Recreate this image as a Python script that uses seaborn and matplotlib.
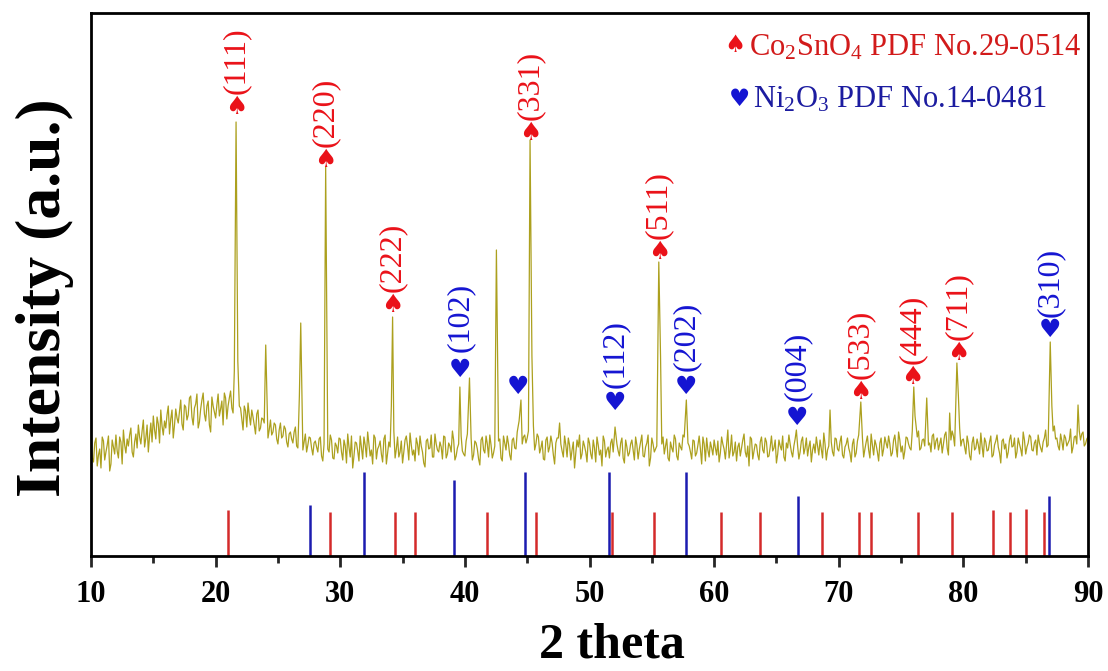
import numpy as np
import pandas as pd
import matplotlib
matplotlib.use("Agg")
import matplotlib.pyplot as plt
import seaborn as sns
from matplotlib.ticker import MultipleLocator

# ---------------- data (intensity in arbitrary units) ----------------
# background read every 0.2 deg from 10.0 to 90.0 deg
grid_start, grid_step = 10.0, 0.2
bg_10_20 = [112, 94, 118, 101, 88, 115, 104, 120, 92, 109,
            121, 98, 114, 126, 103, 110, 128, 99, 122, 131,
            112, 136, 118, 104, 133, 140, 117, 132, 146, 121,
            128, 150, 137, 118, 147, 133, 156, 126, 149, 141,
            160, 131, 152, 128, 147, 163, 135, 155, 124, 150]
bg_20_30 = [138, 162, 147, 131, 158, 150, 165, 143, 300, 152,
            148, 126, 145, 153, 131, 139, 122, 146, 128, 137,
            130, 118, 136, 124, 131, 112, 133, 120, 127, 109,
            124, 113, 129, 108, 121, 106, 122, 111, 118, 101,
            115, 104, 119, 95, 112, 107, 121, 98, 113, 103]
bg_30_40 = [117, 96, 110, 122, 99, 88, 114, 105, 120, 97,
            111, 124, 100, 92, 118, 107, 115, 94, 121, 103,
            109, 113, 98, 119, 104, 93, 116, 110, 123, 101,
            95, 112, 120, 104, 89, 117, 108, 99, 122, 106,
            114, 97, 119, 102, 110, 125, 96, 108, 118, 105]
bg_40_50 = [100, 122, 111, 96, 115, 107, 91, 119, 103, 112,
            121, 98, 110, 104, 117, 95, 113, 120, 101, 116,
            108, 124, 118, 112, 121, 118, 128, 117, 106, 122,
            103, 115, 96, 119, 109, 113, 92, 118, 117, 105,
            120, 99, 111, 106, 88, 116, 121, 102, 110, 94]
bg_50_60 = [113, 97, 108, 119, 101, 90, 115, 106, 98, 117,
            120, 112, 100, 118, 93, 109, 103, 116, 96, 111,
            107, 121, 99, 113, 90, 118, 104, 110, 130, 112,
            102, 117, 95, 108, 121, 100, 113, 106, 119, 130,
            110, 97, 115, 103, 120, 92, 112, 118, 99, 108]
bg_60_70 = [116, 101, 94, 119, 107, 112, 98, 121, 104, 95,
            113, 108, 122, 99, 90, 117, 105, 111, 96, 119,
            103, 114, 100, 120, 108, 93, 116, 106, 99, 113,
            121, 104, 110, 120, 97, 115, 102, 118, 109, 94,
            112, 119, 101, 107, 123, 96, 110, 114, 100, 117]
bg_70_80 = [105, 120, 98, 112, 108, 94, 117, 103, 121, 110,
            99, 114, 106, 122, 101, 111, 95, 118, 107, 113,
            120, 100, 116, 109, 124, 104, 97, 119, 112, 106,
            120, 114, 125, 108, 117, 121, 111, 104, 122, 115,
            106, 118, 112, 124, 101, 116, 120, 126, 130, 110]
bg_80_90 = [117, 102, 113, 96, 119, 108, 111, 123, 99, 114,
            106, 120, 101, 115, 109, 93, 117, 112, 104, 121,
            110, 98, 118, 107, 124, 102, 113, 119, 105, 116,
            121, 108, 114, 126, 111, 130, 125, 117, 110, 122,
            106, 118, 113, 127, 109, 120, 140, 116, 124, 112,
            119]

# background read in between, every 0.2 deg from 10.1 to 89.9 deg
mid_start = 10.1
mid_10_20 = [98, 113, 90, 107, 119, 96, 111, 85, 116, 102,
             105, 119, 92, 111, 117, 121, 104, 114, 108, 119,
             125, 109, 131, 120, 114, 126, 139, 113, 130, 135,
             141, 122, 146, 131, 138, 145, 132, 151, 136, 158,
             139, 148, 162, 134, 156, 142, 150, 131, 159, 144]
mid_20_30 = [151, 140, 155, 163, 137, 158, 148, 180, 260, 150,
             137, 150, 129, 141, 146, 131, 142, 125, 138, 133,
             140, 126, 121, 133, 117, 126, 118, 130, 114, 122,
             117, 124, 110, 170, 190, 114, 104, 119, 108, 113,
             109, 117, 100, 112, 250, 104, 116, 97, 110, 118]
mid_30_40 = [104, 116, 93, 109, 120, 100, 113, 95, 108, 119,
             99, 112, 106, 121, 97, 110, 102, 117, 92, 114,
             150, 125, 107, 99, 115, 104, 120, 96, 111, 106,
             118, 101, 110, 93, 115, 107, 121, 99, 112, 104,
             109, 120, 98, 113, 104, 116, 100, 112, 120, 102]
mid_40_50 = [115, 150, 118, 101, 113, 97, 116, 106, 120, 99,
             111, 103, 250, 115, 98, 120, 106, 112, 96, 118,
             107, 130, 150, 119, 113, 125, 300, 130, 112, 119,
             108, 97, 116, 104, 120, 101, 113, 118, 112, 99,
             111, 118, 96, 114, 103, 109, 97, 115, 104, 118]
mid_50_60 = [102, 116, 94, 111, 106, 120, 99, 109, 113, 104,
             120, 105, 113, 98, 116, 100, 112, 106, 119, 97,
             114, 100, 109, 121, 98, 112, 107, 200, 180, 119,
             110, 98, 114, 104, 117, 96, 109, 121, 140, 113,
             104, 116, 100, 111, 107, 119, 95, 106, 114, 101]
mid_60_70 = [108, 115, 103, 112, 97, 118, 106, 100, 114, 109,
             100, 116, 104, 110, 119, 97, 112, 101, 114, 106,
             118, 99, 109, 105, 116, 102, 110, 120, 95, 108,
             112, 99, 117, 110, 104, 119, 108, 100, 115, 106,
             103, 110, 116, 98, 112, 106, 135, 104, 118, 107]
mid_70_80 = [114, 101, 109, 118, 103, 112, 99, 115, 130, 118,
             107, 120, 98, 111, 116, 104, 113, 100, 119, 108,
             112, 103, 121, 99, 116, 110, 105, 118, 108, 125,
             130, 119, 106, 116, 110, 140, 113, 120, 107, 118,
             112, 103, 121, 108, 117, 125, 110, 140, 128, 116]
mid_80_90 = [109, 120, 100, 113, 106, 117, 102, 110, 118, 105,
             114, 99, 111, 121, 103, 115, 107, 98, 116, 109,
             118, 104, 112, 100, 116, 109, 121, 106, 113, 101,
             113, 104, 118, 109, 122, 150, 130, 118, 106, 115,
             121, 110, 116, 103, 119, 112, 125, 122, 110, 117]

# diffraction peaks (2theta, intensity)
peak_pos = [21.5, 21.64, 21.78, 24.02, 26.72, 26.83, 28.83, 34.1, 34.2, 39.6, 40.37, 42.53,
            44.35, 44.5, 45.23, 45.38, 47.6, 52.05, 55.56, 55.7, 57.77, 61.1, 66.6, 69.3,
            71.77, 76.02, 76.12, 77.06, 78.9, 79.48, 79.6, 86.97, 87.1, 89.2]
peak_int = [185, 434, 195, 211, 160, 233, 389, 150, 239, 169, 178, 306,
            135, 156, 416, 200, 133, 129, 294, 200, 156, 126, 126, 146,
            154, 169, 140, 158, 143, 193, 160, 214, 150, 151]

# standard cards (stick patterns)
co2sno4_pos = [21.02, 29.18, 34.37, 35.97, 41.75, 45.7, 51.79, 55.19, 60.59, 63.69, 68.67,
               71.59, 72.55, 76.32, 79.1, 82.37, 83.73, 85.01, 86.48]
co2sno4_int = [46, 44, 44, 44, 44, 44, 44, 44, 44, 44, 44,
               44, 44, 44, 44, 46, 44, 47, 44]
ni2o3_pos = [27.58, 31.9, 39.13, 44.8, 51.57, 57.75, 66.77, 86.89]
ni2o3_int = [51, 84, 76, 84, 84, 84, 60, 60]

# peak labels: (hkl, position, marker height, label bottom)
co_labels = ["(111)", "(220)", "(222)", "(331)", "(511)", "(533)", "(444)", "(711)"]
co_lab_pos = [21.64, 28.83, 34.2, 45.23, 55.56, 71.72, 75.9, 79.6]
co_mark_y = [449, 396, 251, 423, 304, 164, 179, 203]
co_text_y = [462, 409, 264, 436, 317, 177, 192, 216]
ni_labels = ["(102)", "", "(112)", "(202)", "(004)", "(310)"]
ni_lab_pos = [39.6, 44.27, 52.05, 57.75, 66.66, 86.97]
ni_mark_y = [186, 169, 153, 169, 138, 226]
ni_text_y = [204, 0, 168, 185, 155, 239]

legend_texts = [r"Co$_2$SnO$_4$ PDF No.29-0514", r"Ni$_2$O$_3$ PDF No.14-0481"]

# ---------------- build curve ----------------
bg = bg_10_20 + bg_20_30 + bg_30_40 + bg_40_50 + bg_50_60 + bg_60_70 + bg_70_80 + bg_80_90
mid = mid_10_20 + mid_20_30 + mid_30_40 + mid_40_50 + mid_50_60 + mid_60_70 + mid_70_80 + mid_80_90
bg_x = np.round(grid_start + grid_step * np.arange(len(bg)), 3)
mid_x = np.round(mid_start + grid_step * np.arange(len(mid)), 3)
all_x = np.concatenate([bg_x, mid_x])
all_y = np.array(bg + mid, dtype=float)
pk_x = np.array(peak_pos)
keep = np.array([np.min(np.abs(pk_x - x)) > 0.09 for x in all_x])
df = pd.DataFrame({"two_theta": np.concatenate([all_x[keep], pk_x]),
                   "intensity": np.concatenate([all_y[keep], peak_int])}).sort_values("two_theta")

# ---------------- style ----------------
sns.set_theme(style="white")
plt.rcParams["font.family"] = ["Liberation Serif", "DejaVu Sans"]
plt.rcParams["mathtext.fontset"] = "custom"
plt.rcParams["mathtext.rm"] = "Liberation Serif"
plt.rcParams["mathtext.it"] = "Liberation Serif:italic"
plt.rcParams["mathtext.bf"] = "Liberation Serif:bold"

RED = "#ea1219"
BLUE = "#1515d2"
RED_STICK = "#d42a2a"
BLUE_STICK = "#1c1cb0"
LINE = "#aca01e"

fig = plt.figure(figsize=(11.08, 6.71), dpi=100)
ax = fig.add_axes([91 / 1108, 115 / 671, 997 / 1108, 543 / 671])

sns.lineplot(data=df, x="two_theta", y="intensity", ax=ax, color=LINE,
             linewidth=0.9, estimator=None, sort=False)

ax.vlines(co2sno4_pos, 0, co2sno4_int, color=RED_STICK, linewidth=1.8)
ax.vlines(ni2o3_pos, 0, ni2o3_int, color=BLUE_STICK, linewidth=1.8)

for lab, x, my, ty in zip(co_labels, co_lab_pos, co_mark_y, co_text_y):
    ax.text(x, my, "\u2660", color=RED, fontsize=18, ha="center", va="center",
            family="DejaVu Sans")
    ax.text(x, ty, lab, color=RED, fontsize=23, rotation=90, ha="center", va="bottom")
for lab, x, my, ty in zip(ni_labels, ni_lab_pos, ni_mark_y, ni_text_y):
    ax.text(x, my, "\u2665", color=BLUE, fontsize=18, ha="center", va="center",
            family="DejaVu Sans")
    if lab:
        ax.text(x, ty, lab, color=BLUE, fontsize=23, rotation=90, ha="center", va="bottom")

# legend-like annotations
ax.text((735 - 91) / 997, (556 - 45) / 543, "\u2660", transform=ax.transAxes, color=RED,
        fontsize=17, ha="center", va="center", family="DejaVu Sans")
ax.text((749 - 91) / 997, (556 - 55) / 543, legend_texts[0], transform=ax.transAxes,
        color="#d21a1a", fontsize=22, ha="left", va="baseline")
ax.text((739 - 91) / 997, (556 - 99) / 543, "\u2665", transform=ax.transAxes, color=BLUE,
        fontsize=17, ha="center", va="center", family="DejaVu Sans")
ax.text((753 - 91) / 997, (556 - 108) / 543, legend_texts[1], transform=ax.transAxes,
        color="#1c1ca0", fontsize=22, ha="left", va="baseline")

# axes
ax.set_xlim(10, 90)
ax.set_ylim(0, 543)
ax.set_xlabel("")
ax.set_ylabel("")
ax.set_yticks([])
ax.xaxis.set_major_locator(MultipleLocator(10))
ax.xaxis.set_minor_locator(MultipleLocator(5))
ax.tick_params(axis="x", which="major", direction="out", length=8, width=2, pad=9,
               labelsize=22, bottom=True, top=False, labelcolor="black")
ax.tick_params(axis="x", which="minor", direction="out", length=5, width=2,
               bottom=True, top=False)
for lbl in ax.get_xticklabels():
    lbl.set_fontweight("bold")
for s in ax.spines.values():
    s.set_visible(True)
    s.set_linewidth(2)
    s.set_color("black")

fig.text(612 / 1108, 1 - 657 / 671, "2 theta", fontsize=36, fontweight="bold",
         ha="center", va="baseline", color="black")
fig.text(60 / 1108, 1 - 298 / 671, "Intensity (a.u.)", fontsize=46, fontweight="bold",
         rotation=90, rotation_mode="anchor", ha="center", va="baseline", color="black")

fig.savefig("out.png", dpi=100, facecolor="white")
